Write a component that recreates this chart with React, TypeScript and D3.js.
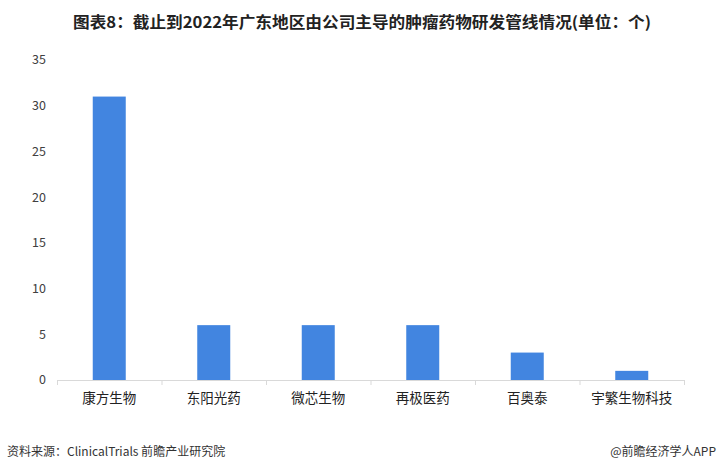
import React from "react";
import * as d3 from "d3";

const categories = ["康方生物", "东阳光药", "微芯生物", "再极医药", "百奥泰", "宇繁生物科技"];
const values = [31, 6, 6, 6, 3, 1];
const yTicks = [0, 5, 10, 15, 20, 25, 30, 35];
const title = "图表8：截止到2022年广东地区由公司主导的肿瘤药物研发管线情况(单位：个)";
const source = "资料来源：ClinicalTrials 前瞻产业研究院";
const credit = "@前瞻经济学人APP";

const W = 721;
const H = 472;
const FONT = "'Noto Sans CJK SC', 'Microsoft YaHei', sans-serif";

export default function App() {
  const x = d3.scaleBand<string>().domain(categories).range([57, 684]).paddingInner(0).paddingOuter(0);
  const y = d3.scaleLinear().domain([0, 35]).range([380, 60]);
  const barW = 33;

  return (
    <svg width={W} height={H} style={{ position: "absolute", left: 0, top: 0, background: "#fff" }} fontFamily={FONT}>
      <rect width={W} height={H} fill="#fff" />
      <text x={362} y={28} textAnchor="middle" fontSize={15.5} fontWeight="bold" fill="#222" textLength={578} lengthAdjust="spacingAndGlyphs">
        {title}
      </text>
      {yTicks.map((t) => (
        <text key={t} x={46} y={y(t)} dy="0.35em" textAnchor="end" fontSize={12.5} fill="#404040">
          {t}
        </text>
      ))}
      {categories.map((c, i) => (
        <rect
          key={c}
          x={(x(c) as number) + x.bandwidth() / 2 - barW / 2}
          y={y(values[i])}
          width={barW}
          height={y(0) - y(values[i])}
          fill="#4285e0"
        />
      ))}
      <line x1={57} x2={684} y1={380.5} y2={380.5} stroke="#d9d9d9" strokeWidth={1} />
      {[...categories.map((c) => x(c) as number), 684].map((px, i) => (
        <line key={i} x1={px + 0.5} x2={px + 0.5} y1={380} y2={385} stroke="#d9d9d9" />
      ))}
      {categories.map((c) => (
        <text key={c} x={(x(c) as number) + x.bandwidth() / 2} y={398} dy="0.35em" textAnchor="middle" fontSize={13.5} fill="#222">
          {c}
        </text>
      ))}
      <text x={7} y={452} dy="0.35em" fontSize={12} fill="#333">
        {source}
      </text>
      <text x={716} y={452} dy="0.35em" textAnchor="end" fontSize={12} fill="#333">
        {credit}
      </text>
    </svg>
  );
}
